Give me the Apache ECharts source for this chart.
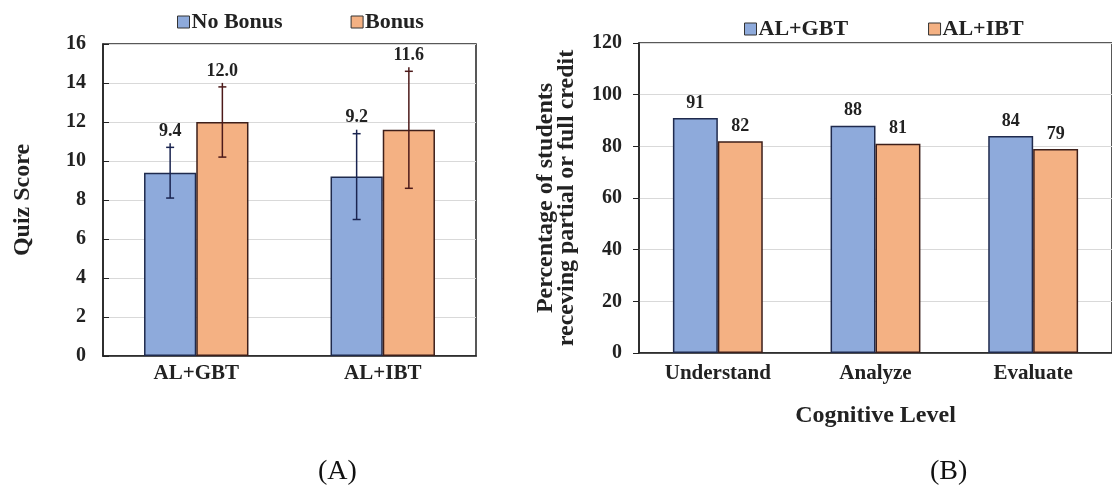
<!DOCTYPE html>
<html>
<head>
<meta charset="utf-8">
<script src="https://cdn.jsdelivr.net/npm/echarts@6/dist/echarts.min.js"></script>
<style>
html,body{margin:0;padding:0;background:#fff;}
#c{width:1112px;height:490px;}
</style>
</head>
<body>
<div id="c"></div>
<script>
// ---- Data: panel A (quiz scores) ----
const groupsA = ['AL+GBT', 'AL+IBT'];
const noBonus = [9.4, 9.2];
const noBonusErr = [1.3, 2.2];
const bonus = [12.0, 11.6];
const bonusErr = [1.8, 3.0];
const ticksA = [0, 2, 4, 6, 8, 10, 12, 14, 16];

// ---- Data: panel B (cognitive level) ----
const levels = ['Understand', 'Analyze', 'Evaluate'];
const gbt = [91, 88, 84];
const ibt = [82, 81, 79];
const ticksB = [0, 20, 40, 60, 80, 100, 120];

const FONT = 'Liberation Serif';
const BLUE = '#8eaadb';
const ORANGE = '#f4b183';
const BLUE_EDGE = '#1f2a4d';
const ORANGE_EDGE = '#3d1f1a';
const BLUE_ERR = '#1a2450';
const ORANGE_ERR = '#4d1a1a';
const BAR_FRAC_A = 0.28;

const errData = [];
noBonus.forEach((v, i) => errData.push([i, v, noBonusErr[i], 0]));
bonus.forEach((v, i) => errData.push([i, v, bonusErr[i], 1]));

function renderErr(params, api) {
  const cat = api.value(0), mean = api.value(1), err = api.value(2), s = api.value(3);
  const c = api.coord([cat, mean]);
  const band = api.size([1, 0])[0];
  const bw = band * BAR_FRAC_A;
  const x = c[0] + (s === 0 ? -bw / 2 : bw / 2);
  const top = api.coord([cat, mean + err])[1];
  const bot = api.coord([cat, mean - err])[1];
  const col = s === 0 ? BLUE_ERR : ORANGE_ERR;
  const st = { stroke: col, lineWidth: 1.5 };
  return {
    type: 'group',
    children: [
      { type: 'line', shape: { x1: x, y1: top - 4, x2: x, y2: bot }, style: st },
      { type: 'line', shape: { x1: x - 4, y1: top, x2: x + 4, y2: top }, style: st },
      { type: 'line', shape: { x1: x - 4, y1: bot, x2: x + 4, y2: bot }, style: st },
      { type: 'text', x: x, y: top - 16,
        style: { text: mean.toFixed(1), fill: '#222', font: 'bold 18px "' + FONT + '"',
                 align: 'center', verticalAlign: 'middle' } }
    ]
  };
}

const axisLabelStyle = { fontFamily: FONT, fontWeight: 'bold', color: '#222' };

const chart = echarts.init(document.getElementById('c'), null, { renderer: 'canvas' });
chart.setOption({
  backgroundColor: '#fff',
  animation: false,
  textStyle: { fontFamily: FONT },
  legend: [
    { data: ['No Bonus', 'Bonus'], left: 177, top: 11, padding: 0, itemGap: 68,
      icon: 'rect', itemWidth: 12, itemHeight: 12, itemStyle: { borderColor: '#333', borderWidth: 1 },
      textStyle: { fontFamily: FONT, fontWeight: 'bold', fontSize: 22, color: '#222', padding: [0, 0, 0, -3] } },
    { data: ['AL+GBT', 'AL+IBT'], left: 744, top: 18, padding: 0, itemGap: 80,
      icon: 'rect', itemWidth: 12, itemHeight: 12, itemStyle: { borderColor: '#333', borderWidth: 1 },
      textStyle: { fontFamily: FONT, fontWeight: 'bold', fontSize: 22, color: '#222', padding: [0, 0, 0, -3] } }
  ],
  grid: [
    { left: 103, top: 44, width: 373, height: 312, show: true, borderColor: '#222', borderWidth: 1.5, containLabel: false },
    { left: 639, top: 43, width: 483, height: 310, show: true, borderColor: '#222', borderWidth: 1.5, containLabel: false }
  ],
  xAxis: [
    { type: 'category', gridIndex: 0, data: groupsA,
      axisLine: { lineStyle: { color: '#222', width: 1.5 } }, axisTick: { show: false },
      axisLabel: Object.assign({ fontSize: 21, margin: 7 }, axisLabelStyle) },
    { type: 'category', gridIndex: 1, data: levels,
      name: 'Cognitive Level', nameLocation: 'middle', nameGap: 51,
      nameTextStyle: { fontFamily: FONT, fontWeight: 'bold', fontSize: 24, color: '#222' },
      axisLine: { lineStyle: { color: '#222', width: 1.5 } }, axisTick: { show: false },
      axisLabel: Object.assign({ fontSize: 21, margin: 10 }, axisLabelStyle) }
  ],
  yAxis: [
    { type: 'value', gridIndex: 0, min: ticksA[0], max: ticksA[ticksA.length - 1], interval: ticksA[1] - ticksA[0],
      name: 'Quiz Score', nameLocation: 'middle', nameGap: 68,
      nameTextStyle: { fontFamily: FONT, fontWeight: 'bold', fontSize: 24, color: '#222' },
      axisLine: { show: true, lineStyle: { color: '#222', width: 1.5 } },
      axisTick: { show: true, inside: true, length: 6, lineStyle: { color: '#222' } },
      splitLine: { lineStyle: { color: '#d9d9d9', width: 1 } },
      axisLabel: Object.assign({ fontSize: 20, margin: 17 }, axisLabelStyle) },
    { type: 'value', gridIndex: 1, min: ticksB[0], max: ticksB[ticksB.length - 1], interval: ticksB[1] - ticksB[0],
      name: 'Percentage of students\nreceving partial or full credit', nameLocation: 'middle', nameGap: 62,
      nameTextStyle: { fontFamily: FONT, fontWeight: 'bold', fontSize: 24, lineHeight: 21, color: '#222' },
      axisLine: { show: true, lineStyle: { color: '#222', width: 1.5 } },
      axisTick: { show: true, inside: false, length: 6, lineStyle: { color: '#222' } },
      splitLine: { lineStyle: { color: '#d9d9d9', width: 1 } },
      axisLabel: Object.assign({ fontSize: 20, margin: 17 }, axisLabelStyle) }
  ],
  series: [
    { name: 'No Bonus', type: 'bar', xAxisIndex: 0, yAxisIndex: 0, data: noBonus,
      barWidth: (BAR_FRAC_A * 100) + '%', barGap: '0%',
      itemStyle: { color: BLUE, borderColor: BLUE_EDGE, borderWidth: 1.5 } },
    { name: 'Bonus', type: 'bar', xAxisIndex: 0, yAxisIndex: 0, data: bonus,
      barWidth: (BAR_FRAC_A * 100) + '%', barGap: '0%',
      itemStyle: { color: ORANGE, borderColor: ORANGE_EDGE, borderWidth: 1.5 } },
    { name: 'errA', type: 'custom', xAxisIndex: 0, yAxisIndex: 0, data: errData,
      renderItem: renderErr, encode: { x: 0, y: 1 }, clip: false, z: 5, silent: true },
    { name: 'AL+GBT', type: 'bar', xAxisIndex: 1, yAxisIndex: 1, data: gbt,
      barWidth: '28.5%', barGap: '0%',
      itemStyle: { color: BLUE, borderColor: BLUE_EDGE, borderWidth: 1.5 },
      label: { show: true, position: 'top', distance: 6, fontFamily: FONT, fontWeight: 'bold', fontSize: 18, color: '#222' } },
    { name: 'AL+IBT', type: 'bar', xAxisIndex: 1, yAxisIndex: 1, data: ibt,
      barWidth: '28.5%', barGap: '0%',
      itemStyle: { color: ORANGE, borderColor: ORANGE_EDGE, borderWidth: 1.5 },
      label: { show: true, position: 'top', distance: 6, fontFamily: FONT, fontWeight: 'bold', fontSize: 18, color: '#222' } }
  ],
  graphic: [
    { type: 'text', left: 318, top: 458, style: { text: '(A)', font: '28px "' + FONT + '"', fill: '#111' } },
    { type: 'text', left: 930, top: 458, style: { text: '(B)', font: '28px "' + FONT + '"', fill: '#111' } }
  ]
});
</script>
</body>
</html>
